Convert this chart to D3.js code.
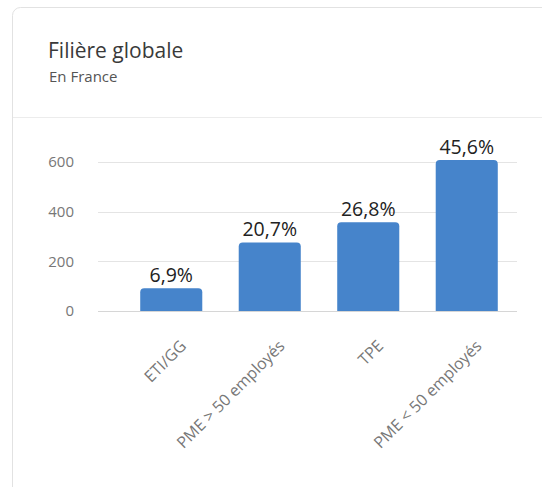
<!DOCTYPE html>
<html>
<head>
<meta charset="utf-8">
<script src="https://cdn.jsdelivr.net/npm/d3@7"></script>
<style>
  html, body { margin: 0; padding: 0; background: #fff; }
  body { width: 542px; height: 487px; overflow: hidden; }
</style>
</head>
<body>
<svg id="chart" width="542" height="487"></svg>
<script>
(function(){
	'use strict';

	// data
	var categories = ['ETI/GG', 'PME > 50 employés', 'TPE', 'PME < 50 employés'];
	var values = [92, 276, 357, 608];
	var shares = ['6,9%', '20,7%', '26,8%', '45,6%'];
	var yTicks = [0, 200, 400, 600];

	var font = 'Open Sans, sans-serif';
	var svg = d3.select('#chart');

	// card
	svg.append('rect')
		.attr('x', 12.5).attr('y', 7.5)
		.attr('width', 540).attr('height', 500)
		.attr('rx', 8)
		.attr('fill', '#fff')
		.attr('stroke', '#e2e2e2');

	svg.append('line')
		.attr('x1', 13).attr('x2', 542)
		.attr('y1', 117.5).attr('y2', 117.5)
		.attr('stroke', '#ececec');

	svg.append('text')
		.attr('x', 48).attr('y', 58)
		.attr('font-family', font)
		.attr('font-size', 21)
		.attr('fill', '#3a3a3a')
		.text('Filière globale');

	svg.append('text')
		.attr('x', 49).attr('y', 82)
		.attr('font-family', font)
		.attr('font-size', 15)
		.attr('fill', '#555')
		.text('En France');

	var x = d3.scaleBand()
		.domain(categories)
		.range([122, 516])
		.paddingInner(0.37)
		.paddingOuter(0.185);

	var y = d3.scaleLinear()
		.domain([0, 600])
		.range([311, 162]);

	// grid lines + y labels
	var grid = svg.append('g');
	grid.selectAll('line')
		.data(yTicks)
		.enter()
		.append('line')
		.attr('x1', 98).attr('x2', 517)
		.attr('y1', function (d) { return Math.round(y(d)) + 0.5; })
		.attr('y2', function (d) { return Math.round(y(d)) + 0.5; })
		.attr('stroke', function (d) { return d === 0 ? '#d6d6d6' : '#e4e4e4'; });

	grid.selectAll('text')
		.data(yTicks)
		.enter()
		.append('text')
		.attr('x', 74)
		.attr('y', function (d) { return y(d); })
		.attr('dy', '0.36em')
		.attr('text-anchor', 'end')
		.attr('font-family', font)
		.attr('font-size', 15)
		.attr('fill', '#777')
		.text(function (d) { return d; });

	// bars with rounded tops
	var r = 4;
	function barPath(d, i) {
		var x0 = x(categories[i]), w = x.bandwidth();
		var y0 = y(d), y1 = y(0);
		return 'M' + x0 + ',' + y1 +
			'V' + (y0 + r) +
			'Q' + x0 + ',' + y0 + ' ' + (x0 + r) + ',' + y0 +
			'H' + (x0 + w - r) +
			'Q' + (x0 + w) + ',' + y0 + ' ' + (x0 + w) + ',' + (y0 + r) +
			'V' + y1 + 'Z';
	}

	svg.append('g')
		.selectAll('path')
		.data(values)
		.enter()
		.append('path')
		.attr('d', barPath)
		.attr('fill', '#4684cb');

	// value labels
	svg.append('g')
		.selectAll('text')
		.data(values)
		.enter()
		.append('text')
		.attr('x', function (d, i) { return x(categories[i]) + x.bandwidth() / 2; })
		.attr('y', function (d) { return y(d) - 6; })
		.attr('text-anchor', 'middle')
		.attr('font-family', font)
		.attr('font-size', 19.5)
		.attr('fill', '#222')
		.text(function (d, i) { return shares[i]; });

	// category labels, rotated
	svg.append('g')
		.selectAll('text')
		.data(categories)
		.enter()
		.append('text')
		.attr('transform', function (d) {
			var cx = x(d) + x.bandwidth() / 2;
			return 'translate(' + (cx + 16) + ',' + 347 + ') rotate(-45)';
		})
		.attr('text-anchor', 'end')
		.attr('font-family', font)
		.attr('font-size', 16)
		.attr('fill', '#777')
		.text(function (d) { return d; });
})();
</script>
</body>
</html>
